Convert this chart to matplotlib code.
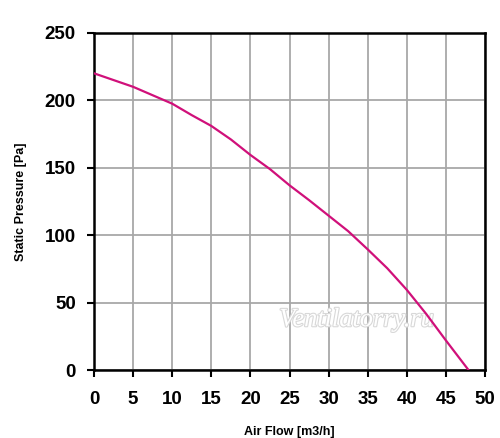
import matplotlib.pyplot as plt
import matplotlib.patheffects as pe

plt.rcParams['font.family'] = ['Liberation Sans', 'DejaVu Sans']

# fan curve
air_flow = [0, 5, 10, 12.5, 15, 17.5, 20, 22.5, 25, 27.5, 30, 32.5, 35, 37.5, 40, 42.5, 45, 47.9]
pressure = [220, 210, 197.5, 189, 181, 171, 159.5, 149, 137, 126, 114.5, 103, 89.5, 75.5, 59.5, 41.5, 22, 0]

x_ticks = [0, 5, 10, 15, 20, 25, 30, 35, 40, 45, 50]
y_ticks = [0, 50, 100, 150, 200, 250]

fig = plt.figure(figsize=(5, 4.38), dpi=100)
ax = fig.add_axes([0.188, 0.155, 0.782, 0.77])

ax.plot(air_flow, pressure, color='#d0107a', linewidth=1.6, zorder=3)

ax.set_xlim(0, 50)
ax.set_ylim(0, 250)
ax.set_xticks(x_ticks)
ax.set_yticks(y_ticks)
ax.grid(True, color='#a8a8a8', linewidth=1.3)
ax.set_axisbelow(True)

for s in ax.spines.values():
    s.set_linewidth(1.8)
    s.set_color('black')

ax.tick_params(direction='out', length=5, width=1.5, pad=8, labelsize=13.5)
ax.tick_params(axis='x', pad=10)
for lbl in ax.get_xticklabels() + ax.get_yticklabels():
    lbl.set_fontweight('bold')

ax.set_xlabel('Air Flow [m3/h]', fontsize=9, fontweight='bold', labelpad=13)
ax.set_ylabel('Static Pressure [Pa]', fontsize=9, fontweight='bold', labelpad=13)

# watermark
wm = ax.text(0.672, 0.148, 'Ventilatorry.ru', transform=ax.transAxes, fontsize=19,
             family='Liberation Serif', style='italic', color='white',
             ha='center', va='center', zorder=2)
wm.set_path_effects([pe.withStroke(linewidth=1.6, foreground='#d8d8d8')])

plt.savefig('out.png', dpi=100)
plt.close(fig)
